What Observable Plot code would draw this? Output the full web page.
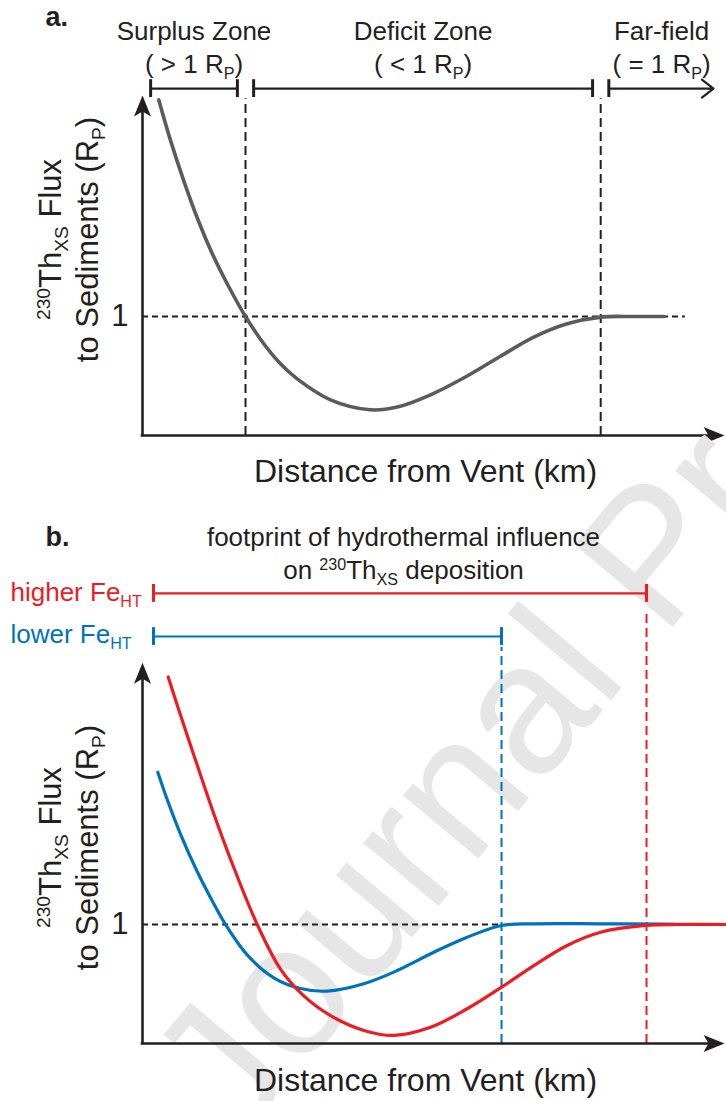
<!DOCTYPE html>
<html>
<head>
<meta charset="utf-8">
<script src="https://cdn.jsdelivr.net/npm/d3@7"></script>
<script src="https://cdn.jsdelivr.net/npm/@observablehq/plot@0.6"></script>
<style>
  html, body { margin: 0; padding: 0; background: #fff; width: 726px; height: 1101px; overflow: hidden; }
  #chart svg { display: block; }
</style>
</head>
<body>
<div id="chart"></div>
<script>
// ---------------- DATA ----------------
// Panel a: schematic 230Th_xs flux (in R_P units) vs distance (relative units, 0-100)
const distA = [2.81, 4.83, 7.12, 9.43, 12.02, 14.88, 17.76, 20.91, 23.79, 26.67, 32.41, 39.31, 43.91, 49.66, 55.98, 61.72, 67.47, 73.22, 79.0, 84.66, 89.88];
const fluxA = [2.82, 2.48, 2.14, 1.83, 1.53, 1.25, 1.0, 0.771, 0.603, 0.476, 0.300, 0.216, 0.239, 0.342, 0.500, 0.666, 0.827, 0.939, 0.995, 1.0, 1.0];
const zoneEdgesA = [0, 17.76, 79.0, 100];
const zoneNamesA = ["Surplus Zone", "Deficit Zone", "Far-field"];
const zoneRatiosA = ["( > 1 R_{P})", "( < 1 R_{P})", "( = 1 R_{P})"];

// Panel b: higher vs lower hydrothermal Fe
const distHigh = [4.43, 6.55, 9.43, 12.29, 15.17, 19.78, 23.79, 27.81, 32.41, 38.16, 43.33, 49.66, 55.98, 61.90, 67.47, 73.22, 78.97, 86.72, 92.76, 100.69];
const fluxHigh = [3.08, 2.76, 2.34, 1.93, 1.55, 1.0, 0.625, 0.400, 0.235, 0.110, 0.068, 0.136, 0.292, 0.473, 0.655, 0.824, 0.935, 0.992, 1.0, 1.0];
const distLow = [2.64, 4.26, 6.55, 9.43, 11.9, 14.31, 18.05, 22.64, 27.24, 31.84, 38.16, 43.91, 50.22, 55.98, 61.90, 67.47, 78.97, 90.47, 96.2];
const fluxLow = [2.28, 2.05, 1.76, 1.445, 1.21, 1.0, 0.745, 0.552, 0.462, 0.440, 0.502, 0.613, 0.767, 0.893, 0.992, 1.006, 1.006, 1.003, 1.0];
const feLabels = ["higher Fe_{HT}", "lower Fe_{HT}"];
const feFootprint = [86.9, 61.9];

const yTicks = [1];
const xLabel = "Distance from Vent (km)";
const yLabel1 = "^{230}Th_{XS} Flux";
const yLabel2 = "to Sediments (R_{P})";
const panelTitleB = ["footprint of hydrothermal influence", "on ^{230}Th_{XS} deposition"];
const watermark = "Journal Pre-proof";

// ---------------- STYLE / LAYOUT ----------------
const INK = "#231F20", RED = "#ED1C24", BLUE = "#0072BC", GREY = "#5B5B5B", WM = "#E6E6E6";
const FONT = "'Liberation Sans', Arial, Helvetica, sans-serif";
const W = 726, ML = 142, MR = 4;
const PX_PER_UNIT = 119;
const xAxisEnd = 100.35;
const CURVE = "catmull-rom";

const arrowHead = {
  draw(ctx) { ctx.moveTo(0, 0); ctx.lineTo(8.5, 21); ctx.lineTo(0, 16); ctx.lineTo(-8.5, 21); ctx.closePath(); }
};

const curveA = distA.map((d, i) => ({d, f: fluxA[i]}));
const curveB = [
  ...distLow.map((d, i) => ({d, f: fluxLow[i], s: "lower"})),
  ...distHigh.map((d, i) => ({d, f: fluxHigh[i], s: "higher"}))
];

function axesMarks(yTop) {
  return [
    Plot.ruleX([0], {y1: 0, y2: yTop - 0.08, stroke: INK, strokeWidth: 2.6, strokeLinecap: "square"}),
    Plot.ruleY([0], {x1: 0, x2: xAxisEnd - 1.5, stroke: INK, strokeWidth: 2.6, strokeLinecap: "square"}),
    Plot.dot([0], {x: 0, y: yTop, symbol: arrowHead, fill: INK, stroke: "none", r: 5, rotate: 0}),
    Plot.dot([0], {x: xAxisEnd, y: 0, symbol: arrowHead, fill: INK, stroke: "none", r: 5, rotate: 90}),
    Plot.axisY({ticks: yTicks, tickSize: 0, tickPadding: 14, fontSize: 31, label: null, tickFormat: d => String(d)})
  ];
}

function yLabelMarks(cy) {
  return [
    Plot.text([yLabel1], {text: d => d, frameAnchor: "top-left", dx: 60 - ML, dy: cy, rotate: -90, textAnchor: "middle", lineAnchor: "bottom", fontSize: 31, fill: INK}),
    Plot.text([yLabel2], {text: d => d, frameAnchor: "top-left", dx: 97 - ML, dy: cy, rotate: -90, textAnchor: "middle", lineAnchor: "bottom", fontSize: 31, fill: INK})
  ];
}

function xLabelMark(baseline) {
  return Plot.text([xLabel], {text: d => d, frameAnchor: "top-left", dx: 425 - ML, dy: baseline, textAnchor: "middle", lineAnchor: "bottom", fontSize: 32, fill: INK});
}

// ---------------- PANEL A ----------------
const hA = 490, mbA = 55;
const rowA = 2.915, gapA = 1.4, tickH = 0.075;
const bracketsA = [
  {x1: zoneEdgesA[0] + gapA, x2: zoneEdgesA[1] - gapA},
  {x1: zoneEdgesA[1] + gapA, x2: zoneEdgesA[2] - gapA}
];
const farA = [{x1: zoneEdgesA[2] + gapA, x2: 98.45}];
const ticksA = [...bracketsA.flatMap(b => [b.x1, b.x2]), farA[0].x1];
const zoneMid = (d, i) => (zoneEdgesA[i] + zoneEdgesA[i + 1]) / 2;

const plotA = Plot.plot({
  width: W, height: hA,
  marginLeft: ML, marginRight: MR, marginTop: 0, marginBottom: mbA,
  x: {domain: [0, 100], axis: null},
  y: {domain: [0, (hA - mbA) / PX_PER_UNIT]},
  style: {background: "transparent", overflow: "visible", color: INK, fontFamily: FONT},
  marks: [
    Plot.ruleY(yTicks, {x1: 0, x2: 93.6, stroke: INK, strokeWidth: 2, strokeDasharray: "6,4"}),
    Plot.ruleX(zoneEdgesA.slice(1, 3), {y1: 0, y2: 2.83, stroke: INK, strokeWidth: 2, strokeDasharray: "9,5"}),
    Plot.line(curveA, {x: "d", y: "f", stroke: GREY, strokeWidth: 3.6, curve: CURVE}),
    ...axesMarks(2.857),
    Plot.ruleY(bracketsA, {y: rowA, x1: "x1", x2: "x2", stroke: INK, strokeWidth: 2.2}),
    Plot.ruleX(ticksA, {x: d => d, y1: rowA - tickH, y2: rowA + tickH, stroke: INK, strokeWidth: 3}),
    Plot.arrow(farA, {x1: "x1", x2: "x2", y1: rowA, y2: rowA, stroke: INK, strokeWidth: 2.2, headLength: 10, headAngle: 75}),
    Plot.text(zoneNamesA, {text: d => d, x: zoneMid, frameAnchor: "top", dy: 39, textAnchor: "middle", lineAnchor: "bottom", fontSize: 26, fill: INK}),
    Plot.text(zoneRatiosA, {text: d => d, x: zoneMid, frameAnchor: "top", dy: 72, textAnchor: "middle", lineAnchor: "bottom", fontSize: 26, fill: INK}),
    Plot.text(["a."], {text: d => d, frameAnchor: "top-left", dx: 45 - ML, dy: 25, textAnchor: "start", lineAnchor: "bottom", fontSize: 27, fontWeight: "bold", fill: INK}),
    ...yLabelMarks(239),
    xLabelMark(481)
  ]
});

// ---------------- PANEL B ----------------
const hB = 611, mbB = 58;
const rowsB = [3.782, 3.42];
const bracketStartB = 1.9;
const dashTopB = [3.62, 3.33];
const labelBaselineB = [110, 152];
const fePalette = [RED, BLUE];
const bracketsB = feLabels.map((l, i) => ({l, x1: bracketStartB, x2: feFootprint[i], y: rowsB[i], top: dashTopB[i], c: fePalette[i]}));
const ticksB = bracketsB.flatMap(b => [{x: b.x1, y: b.y, c: b.c}, {x: b.x2, y: b.y, c: b.c}]);

const plotB = Plot.plot({
  width: W, height: hB,
  marginLeft: ML, marginRight: MR, marginTop: 0, marginBottom: mbB,
  x: {domain: [0, 100], axis: null},
  y: {domain: [0, (hB - mbB) / PX_PER_UNIT]},
  color: {domain: ["higher", "lower"], range: [RED, BLUE]},
  style: {background: "transparent", overflow: "visible", color: INK, fontFamily: FONT},
  marks: [
    Plot.text([watermark], {text: d => d, frameAnchor: "top-left", dx: 237 - ML, dy: 655, rotate: -50, textAnchor: "start", lineAnchor: "bottom", fontSize: 186, fill: WM}),
    Plot.ruleY(yTicks, {x1: 0, x2: feFootprint[1], stroke: INK, strokeWidth: 2, strokeDasharray: "6,4"}),
    Plot.ruleX(bracketsB, {x: "x2", y1: 0, y2: "top", stroke: "c", strokeWidth: 2, strokeDasharray: "9,5"}),
    Plot.line(curveB, {x: "d", y: "f", z: "s", stroke: "s", strokeWidth: 3.2, curve: CURVE}),
    ...axesMarks(3.20),
    Plot.ruleY(bracketsB, {y: "y", x1: "x1", x2: "x2", stroke: "c", strokeWidth: 2.2}),
    Plot.ruleX(ticksB, {x: "x", y1: d => d.y - tickH, y2: d => d.y + tickH, stroke: "c", strokeWidth: 3}),
    ...feLabels.map((l, i) => Plot.text([l], {text: d => d, frameAnchor: "top-left", dx: 10 - ML, dy: labelBaselineB[i], textAnchor: "start", lineAnchor: "bottom", fontSize: 26, fill: fePalette[i]})),
    Plot.text(["b."], {text: d => d, frameAnchor: "top-left", dx: 45 - ML, dy: 55, textAnchor: "start", lineAnchor: "bottom", fontSize: 27, fontWeight: "bold", fill: INK}),
    Plot.text([panelTitleB[0]], {text: d => d, frameAnchor: "top-left", dx: 403 - ML, dy: 55, textAnchor: "middle", lineAnchor: "bottom", fontSize: 26, fill: INK}),
    Plot.text([panelTitleB[1]], {text: d => d, frameAnchor: "top-left", dx: 403 - ML, dy: 88, textAnchor: "middle", lineAnchor: "bottom", fontSize: 26, fill: INK}),
    ...yLabelMarks(357),
    xLabelMark(600)
  ]
});

(function () {
  const chart = document.getElementById("chart");
  chart.appendChild(plotA);
  chart.appendChild(plotB);

  // Render ^{...} as superscript and _{...} as subscript inside Plot's text elements
  function richify(svg) {
    const NS = "http://www.w3.org/2000/svg";
    svg.querySelectorAll("text").forEach(t => {
      const s = t.textContent;
      if (!/[\^_]\{/.test(s)) return;
      const fs = parseFloat(getComputedStyle(t).fontSize) || 16;
      while (t.firstChild) t.removeChild(t.firstChild);
      const parts = s.split(/(\^\{[^}]*\}|_\{[^}]*\})/).filter(p => p);
      let shift = 0;
      for (const p of parts) {
        const ts = document.createElementNS(NS, "tspan");
        let target = 0, txt = p, small = false;
        if (p.startsWith("^{")) { target = -0.34 * fs; txt = p.slice(2, -1); small = true; }
        else if (p.startsWith("_{")) { target = 0.24 * fs; txt = p.slice(2, -1); small = true; }
        const d = target - shift;
        if (d) ts.setAttribute("dy", d.toFixed(2));
        if (small) ts.setAttribute("font-size", (0.62 * fs).toFixed(2));
        shift = target;
        ts.textContent = txt;
        t.appendChild(ts);
      }
    });
  }
  richify(plotA);
  richify(plotB);
})();
</script>
</body>
</html>
